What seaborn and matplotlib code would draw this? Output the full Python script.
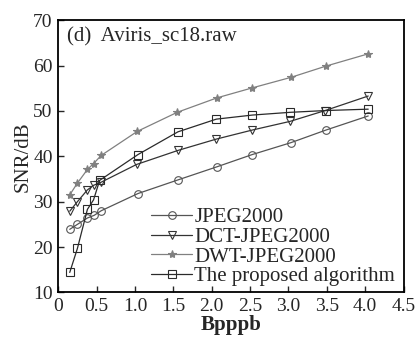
import matplotlib
matplotlib.use("Agg")
import matplotlib.pyplot as plt
import seaborn as sns
import pandas as pd

sns.set_style("ticks")
plt.rcParams['font.family'] = 'serif'
plt.rcParams['font.serif'] = ['Liberation Serif']

labels = ["JPEG2000", "DCT-JPEG2000", "DWT-JPEG2000", "The proposed algorithm"]

x_jpeg = [0.15, 0.25, 0.38, 0.47, 0.56, 1.04, 1.56, 2.07, 2.53, 3.03, 3.49, 4.04]
y_jpeg = [23.9, 25.0, 26.4, 27.0, 28.0, 31.8, 34.8, 37.7, 40.4, 43.0, 45.8, 48.9]

x_dct = [0.15, 0.25, 0.38, 0.46, 0.56, 1.02, 1.56, 2.06, 2.53, 3.02, 3.48, 4.04]
y_dct = [27.9, 30.0, 32.6, 33.6, 34.3, 38.2, 41.3, 43.8, 45.8, 47.7, 50.1, 53.3]

x_dwt = [0.15, 0.25, 0.38, 0.46, 0.56, 1.03, 1.55, 2.07, 2.53, 3.03, 3.49, 4.04]
y_dwt = [31.5, 34.1, 37.1, 38.4, 40.2, 45.5, 49.7, 52.9, 55.1, 57.4, 59.9, 62.6]

x_prop = [0.15, 0.25, 0.38, 0.46, 0.54, 1.04, 1.56, 2.06, 2.53, 3.02, 3.49, 4.04]
y_prop = [14.4, 19.7, 28.3, 30.4, 34.7, 40.4, 45.4, 48.2, 49.1, 49.7, 50.1, 50.4]

series = [(x_jpeg, y_jpeg), (x_dct, y_dct), (x_dwt, y_dwt), (x_prop, y_prop)]
markers = ["o", "v", "*", "s"]
colors = ["#555555", "#333333", "#808080", "#2a2a2a"]

xticks = [0, 0.5, 1.0, 1.5, 2.0, 2.5, 3.0, 3.5, 4.0, 4.5]
xticklabels = ["0", "0.5", "1.0", "1.5", "2.0", "2.5", "3.0", "3.5", "4.0", "4.5"]
yticks = [10, 20, 30, 40, 50, 60, 70]

fig = plt.figure(figsize=(4.16, 3.38), dpi=100)
ax = fig.add_axes([0.14, 0.135, 0.83, 0.805])

for lab, (xs, ys), m, c in zip(labels, series, markers, colors):
    df = pd.DataFrame({"x": xs, "y": ys})
    ms = 6 if m == "*" else 5.5
    sns.lineplot(data=df, x="x", y="y", ax=ax, label=lab, color=c, lw=0.9,
                 marker=m, markersize=ms, markerfacecolor="none" if m != "*" else c,
                 markeredgecolor=c, markeredgewidth=0.8, sort=False)

ax.set_xlim(0, 4.5)
ax.set_ylim(10, 70)
ax.set_xticks(xticks)
ax.set_xticklabels(xticklabels)
ax.set_yticks(yticks)
ax.tick_params(direction="in", length=4, width=1, labelsize=14)
ax.tick_params(axis="x", pad=4)
ax.tick_params(axis="y", pad=4)
for s in ax.spines.values():
    s.set_linewidth(1.3)
    s.set_color("black")
ax.set_xlabel("Bpppb", fontsize=15, fontweight="bold", labelpad=0)
ax.set_ylabel("SNR/dB", fontsize=15, labelpad=0)
ax.text(0.025, 0.975, "(d)  Aviris_sc18.raw", transform=ax.transAxes, fontsize=15,
        va="top", ha="left")
leg = ax.legend(loc="lower right", frameon=False, fontsize=15, handlelength=2.0,
                handletextpad=0.1, labelspacing=0.0, borderaxespad=0.0,
                bbox_to_anchor=(1.0, -0.008))

fig.savefig("out.png", dpi=100)
